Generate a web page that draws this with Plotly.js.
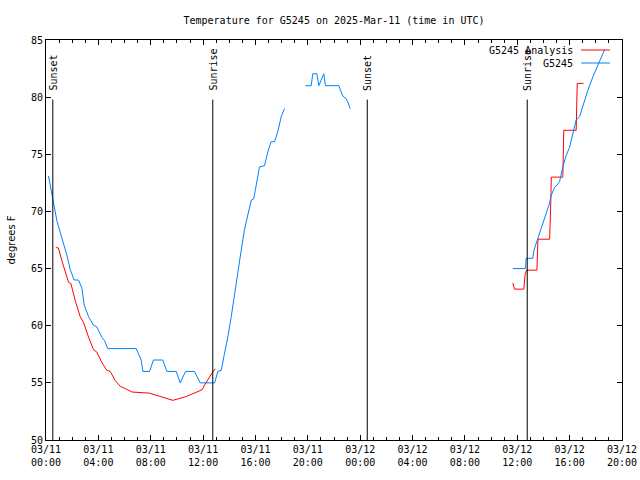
<!DOCTYPE html>
<html><head><meta charset="utf-8">
<script src="https://cdn.plot.ly/plotly-3.0.1.min.js"></script>
<style>body{margin:0;background:#fff}</style>
</head><body><div id="chart" style="width:640px;height:480px"></div>
<script>
// hours since 2025-03-11 00:00 UTC
const obsHours = [0.19,0.32,0.45,0.57,0.83,1.08,1.34,1.59,1.85,2.15,2.48,2.74,2.92,3.25,3.63,3.88,4.26,4.47,4.72,
  6.89,7.27,7.40,7.91,8.21,8.92,9.23,9.95,10.25,10.66,11.34,11.78,12.88,13.13,13.39,13.64,13.89,14.15,14.40,14.65,
  14.91,15.16,15.42,15.68,15.87,16.06,16.31,16.69,16.94,17.20,17.46,17.71,17.97,18.22,null,
  19.82,20.26,20.38,20.69,20.84,21.22,21.35,22.37,22.55,22.67,22.93,23.06,23.24,null,
  35.66,36.63,36.68,37.19,37.27,37.40,37.57,37.70,37.83,37.95,38.08,38.21,38.33,38.46,38.59,38.72,38.85,39.10,39.23,
  39.48,39.74,39.99,40.25,40.50,40.76,41.01,41.39,41.77,42.15,42.54,42.67];
const obsTemps = [73.1,72.3,71.6,70.7,69.2,68.2,67.2,66.2,64.9,64.0,64.0,63.3,61.8,60.8,60.05,59.9,59.0,58.7,58.0,
  58.0,57.0,56.0,56.0,57.0,57.0,56.0,56.0,55.0,56.0,56.0,55.0,55.0,56.0,56.1,57.6,59.0,60.8,62.8,64.9,
  66.6,68.4,69.8,71.0,71.1,72.4,73.9,74.0,75.2,76.1,76.1,77.0,78.3,79.0,null,
  81.0,81.0,82.05,82.05,81.0,82.05,81.0,81.0,80.45,80.1,79.86,79.57,79.0,null,
  65.0,65.0,65.9,65.9,66.6,67.05,67.6,67.9,68.5,68.9,69.2,69.8,70.1,70.7,71.4,71.85,72.1,72.4,72.6,
  73.9,74.9,75.6,76.8,78.0,78.3,79.3,80.6,81.76,82.8,83.9,84.15];

const anaHours = [0.75,0.95,1.21,1.46,1.72,1.90,2.23,2.61,2.86,3.25,3.63,3.88,4.26,4.64,4.90,5.29,5.67,6.05,6.56,
  7.90,8.67,9.69,10.71,11.47,11.93,12.11,12.82,12.95,null,
  35.66,35.79,36.50,36.60,36.71,37.50,37.58,38.47,38.55,38.60,39.48,39.50,39.55,40.50,40.53,40.58,41.06];
const anaTemps = [66.84,66.8,65.7,64.7,63.8,63.7,62.2,60.8,60.3,59.0,57.9,57.7,56.8,56.1,56.0,55.2,54.7,54.5,54.2,
  54.1,53.85,53.47,53.8,54.2,54.4,54.8,56.1,56.2,null,
  63.75,63.2,63.2,64.5,64.86,64.86,67.57,67.57,70.3,73.0,73.0,73.9,77.1,77.1,78.1,81.2,81.2];

const sunHours = [0.52, 12.74, 24.54, 36.76];
const sunLabels = ['Sunset', 'Sunrise', 'Sunset', 'Sunrise'];

const tickHours = [0,4,8,12,16,20,24,28,32,36,40,44];
const tickLabels = ['03/11<br>00:00','03/11<br>04:00','03/11<br>08:00','03/11<br>12:00','03/11<br>16:00','03/11<br>20:00',
  '03/12<br>00:00','03/12<br>04:00','03/12<br>08:00','03/12<br>12:00','03/12<br>16:00','03/12<br>20:00'];
const yTicks = [50,55,60,65,70,75,80,85];

const seriesNames = ['G5245 Analysis', 'G5245'];
const seriesColors = ['#ff0000', '#0080ff'];

const mono = 'DejaVu Sans Mono, monospace';

const traces = [
  {x: anaHours, y: anaTemps, type: 'scatter', mode: 'lines', name: seriesNames[0],
   line: {color: seriesColors[0], width: 1}, connectgaps: false, hoverinfo: 'skip'},
  {x: obsHours, y: obsTemps, type: 'scatter', mode: 'lines', name: seriesNames[1],
   line: {color: seriesColors[1], width: 1}, connectgaps: false, hoverinfo: 'skip'}
];

const shapes = [];
const annotations = [];
sunHours.forEach((h, i) => {
  shapes.push({type: 'line', xref: 'x', yref: 'paper', x0: h, x1: h, y0: 0, y1: 0.851,
    line: {color: '#000', width: 1}, layer: 'above'});
  annotations.push({x: h, xref: 'x', xshift: 1, y: 0.868, yref: 'paper', text: sunLabels[i], textangle: -90,
    showarrow: false, xanchor: 'center', yanchor: 'bottom', font: {family: mono, size: 10, color: '#000'}});
});
// legend (key) drawn gnuplot-style: text right-aligned, sample line on the right
seriesNames.forEach((n, i) => {
  const yy = i === 0 ? 0.975 : 0.9425;
  annotations.push({x: 0.918, xref: 'paper', y: yy, yref: 'paper', text: n, showarrow: false,
    xanchor: 'right', yanchor: 'middle', font: {family: mono, size: 10, color: '#000'}});
  shapes.push({type: 'line', xref: 'paper', yref: 'paper', x0: 0.929, x1: 0.979, y0: yy, y1: yy,
    line: {color: seriesColors[i], width: 1}});
});

const layout = {
  width: 640, height: 480,
  margin: {l: 46, r: 18, t: 40, b: 40, pad: 0},
  paper_bgcolor: '#fff', plot_bgcolor: '#fff',
  showlegend: false,
  title: {text: 'Temperature for G5245 on 2025-Mar-11 (time in UTC)', x: 0.5, xref: 'paper',
    y: 0.958, yref: 'container', yanchor: 'middle', font: {family: mono, size: 10, color: '#000'}},
  xaxis: {range: [0, 44], tickmode: 'array', tickvals: tickHours, ticktext: tickLabels,
    showgrid: false, zeroline: false, showline: true, linecolor: '#000', linewidth: 1, mirror: 'ticks',
    ticks: 'inside', ticklen: 5, tickcolor: '#000', tickwidth: 1,
    minor: {dtick: 1, ticks: 'inside', ticklen: 3, tickcolor: '#000', showgrid: false},
    tickfont: {family: mono, size: 10, color: '#000'}, fixedrange: true},
  yaxis: {range: [50, 85], tickmode: 'array', tickvals: yTicks,
    showgrid: false, zeroline: false, showline: true, linecolor: '#000', linewidth: 1, mirror: 'ticks',
    ticks: 'inside', ticklen: 5, tickcolor: '#000', tickwidth: 1,
    tickfont: {family: mono, size: 10, color: '#000'},
    title: {text: 'degrees F', standoff: 13, font: {family: 'DejaVu Sans, sans-serif', size: 10, color: '#000'}},
    fixedrange: true},
  shapes: shapes,
  annotations: annotations
};

Plotly.newPlot('chart', traces, layout, {staticPlot: true, displayModeBar: false});
</script>
</body></html>
